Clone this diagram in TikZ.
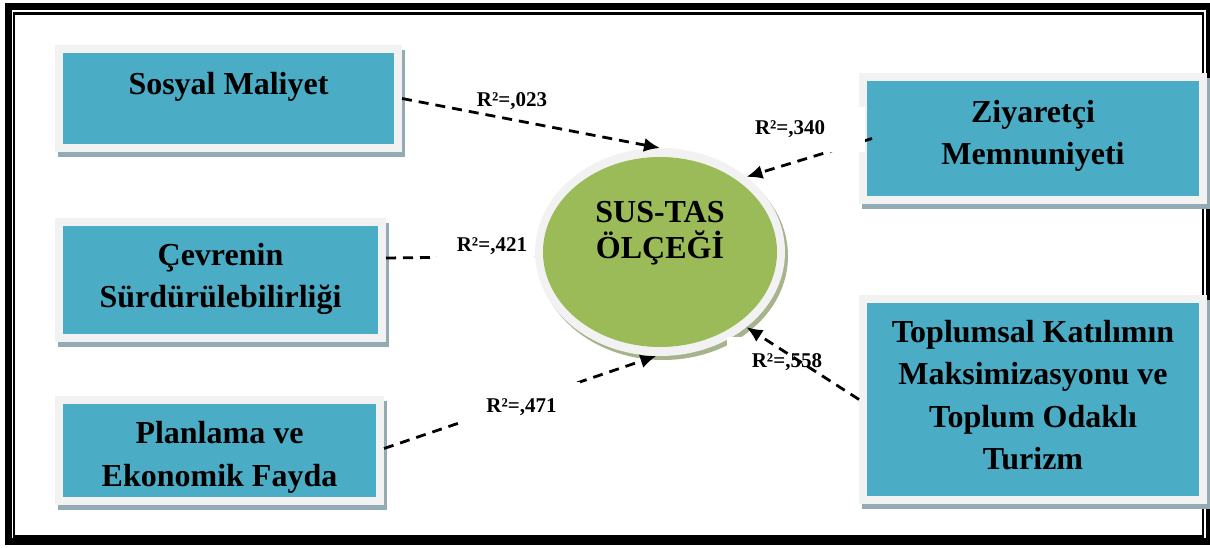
\documentclass[tikz,border=0pt]{standalone}
\usepackage{fontspec}
\setmainfont{Liberation Serif}
\usetikzlibrary{shapes.geometric,arrows.meta,shadows}
\definecolor{boxblue}{RGB}{75,172,198}
\definecolor{framegray}{RGB}{242,242,242}
\definecolor{boxshadow}{RGB}{146,171,181}
\definecolor{elgreen}{RGB}{155,187,89}
\definecolor{elshadow}{RGB}{166,179,141}
\begin{document}
\begin{tikzpicture}[x=1pt,y=-1pt,
  factor/.style={rectangle, draw=framegray, line width=8pt, fill=boxblue,
    inner sep=0pt, outer sep=4pt,
    general shadow={draw=boxshadow, fill=boxshadow, line width=8pt,
      shadow xshift=3pt, shadow yshift=-5pt}},
  boxtext/.style={font=\fontsize{32}{42.5}\selectfont\bfseries, align=center,
    inner sep=0pt, anchor=north},
  lab/.style={font=\fontsize{21}{24}\selectfont\bfseries, inner sep=0pt},
  masklab/.style={lab, fill=white, inner ysep=0pt},
  conn/.style={dash pattern=on 10pt off 7pt, line width=2.8pt,
    -{Latex[length=16pt,width=14pt]}}
]
\useasboundingbox (0,0) rectangle (1210,548);

% page frame
\draw[line width=6.5pt] (8.3,6.3) rectangle (1209.7,541.7);
\draw[line width=2.5pt] (13.8,13.7) rectangle (1202.9,536.3);

% factor boxes
\node[factor, minimum width=339pt, minimum height=99pt] (sm) at (228.5,98.5) {};
\node[boxtext] (smt) at (228.5,72) {Sosyal Maliyet};

\node[factor, minimum width=323pt, minimum height=116pt] (cs) at (220.5,280) {};
\node[boxtext] (cst) at (220.5,243) {Çevrenin\\Sürdürülebilirliği};

\node[factor, minimum width=321pt, minimum height=101pt] (pe) at (219.5,450.5) {};
\node[boxtext] (pet) at (219.5,421.5) {Planlama ve\\Ekonomik Fayda};

\node[factor, minimum width=340pt, minimum height=123pt] (zm) at (1033,138.5) {};
\node[boxtext] (zmt) at (1033,100) {Ziyaretçi\\Memnuniyeti};

\node[factor, minimum width=340pt, minimum height=201pt] (tk) at (1033,399.5) {};
\node[boxtext] (tkt) at (1033,320) {Toplumsal Katılımın\\Maksimizasyonu ve\\Toplum Odaklı\\Turizm};

% central ellipse
\node[ellipse, fill=framegray, minimum width=250pt, minimum height=208pt,
  inner sep=0pt, outer sep=0pt,
  general shadow={fill=elshadow, shadow xshift=3pt, shadow yshift=-4pt}] (el) at (660,252) {};
\fill[elgreen] (el.center) ellipse [x radius=117pt, y radius=95pt];
\node[boxtext, font=\fontsize{32}{36}\selectfont\bfseries] (elt) at (660,201.5) {SUS-TAS\\ÖLÇEĞİ};

% label lying under its connector
\node[masklab, minimum width=105pt, minimum height=50pt, inner xsep=10pt,
  text width=85pt, align=right] (l5) at (779.5,362) {R²=,558};

% connectors
\draw[conn] (sm.east) -- (el.90);
\draw[conn] ([xshift=13pt]zm.west) -- (el.41);
\draw[conn] ([yshift=22pt]cs.east) -- (el.182);
\draw[conn] ([yshift=2pt]pe.east) -- (el.268);
\draw[conn] (tk.west) -- (el.-41);

% labels
\node[lab, anchor=base] (l1) at (512,107) {R²=,023};
\node[masklab, minimum width=117pt, minimum height=45pt, inner xsep=7pt,
  text width=103pt, align=left] (l2) at (806.5,129.5) {R²=,340};
\node[masklab, minimum width=97pt, minimum height=42pt, inner xsep=7pt,
  text width=83pt, align=right] (l3) at (485.5,246) {R²=,421};
\node[masklab, minimum width=117pt, minimum height=50pt] (l4) at (521.5,407) {R²=,471};
\end{tikzpicture}
\end{document}
